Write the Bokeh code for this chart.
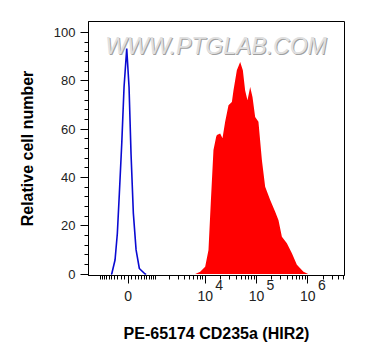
import numpy as np
from bokeh.plotting import figure
from bokeh.models import FixedTicker, CustomJSTickFormatter, Range1d, Label, LinearAxis
from bokeh.embed import file_html
from bokeh.resources import INLINE

# ---- data ----
# Control (unstained) histogram: fluorescence intensity values and relative counts
blue_x = [-531, -502, -387, -313, -251, -179, -113, -37, 28, 84, 151, 231, 332, 527, 569]
blue_y = [0, 0, 5.8, 16.8, 33.3, 54.1, 77.4, 93.3, 77.4, 49.9, 25.1, 10.0, 2.3, 0, 0]

# Stained histogram: log10(intensity) and relative counts
red_log = [3.805, 3.902, 3.999, 4.064, 4.111, 4.161, 4.214, 4.228, 4.292, 4.337, 4.389,
           4.454, 4.520, 4.551, 4.617, 4.682, 4.734, 4.779, 4.824, 4.877, 4.922, 4.974,
           5.038, 5.105, 5.169, 5.267, 5.364, 5.429, 5.495, 5.592, 5.690, 5.787, 5.916, 6.007]
red_y = [0, 1.0, 3.0, 10.0, 30.5, 51.3, 56.8, 57.5, 58.2, 56.2, 63.0,
         69.8, 71.2, 76.0, 84.3, 87.7, 84.3, 76.0, 71.9, 77.4, 73.3, 65.0,
         63.0, 47.2, 36.1, 30.6, 25.8, 22.3, 15.4, 12.7, 8.6, 3.8, 1.0, 0]

x_tick_values = [0, 1e4, 1e5, 1e6]
x_tick_bases = ["0", "10", "10", "10"]
x_tick_exps = ["", "4", "5", "6"]
y_ticks = [0, 20, 40, 60, 80, 100]

# ---- biexponential-like display transform ----
C = 627.0
K = 4 - np.arcsinh(1e4 / C) / np.log(10)


def biex(v):
    return K + np.arcsinh(np.asarray(v, dtype=float) / C) / np.log(10)


x_lo, x_hi = 1.725, 6.715
W, H = 360, 355
BL, BR, BT, BB = 88, 16, 21, 80
frame_w = W - BL - BR

bx = biex(blue_x)
rx = biex(10 ** np.asarray(red_log))

p = figure(width=W, height=H, output_backend="svg", toolbar_location=None,
           x_range=Range1d(x_lo, x_hi), y_range=Range1d(-0.6, 104.5),
           min_border_left=BL, min_border_right=BR, min_border_top=BT, min_border_bottom=BB)

p.background_fill_color = "white"
p.border_fill_color = "white"
p.outline_line_color = "black"
p.outline_line_width = 1
p.xgrid.visible = False
p.ygrid.visible = False

# watermark
wm_x = 4.21
wm_y = 94.5
for off, col in [(1, "#a0a0a0"), (0, "#e0e0e0")]:
    p.add_layout(Label(x=wm_x, y=wm_y, x_offset=off, y_offset=-off, text="WWW.PTGLAB.COM",
                       text_align="center", text_baseline="middle",
                       text_font="Liberation Sans", text_font_size="23px",
                       text_font_style="italic", text_color=col))

p.varea(x=rx, y1=0, y2=red_y, fill_color="#ff0000", fill_alpha=1)
p.line(x=bx, y=blue_y, line_color="#0a0ad2", line_width=1.6)

# x ticks
major_pos = [float(v) for v in biex(x_tick_values)]
minor_vals = []
for k in (2, 3):
    for m in range(1, 10):
        minor_vals += [m * 10 ** k, -m * 10 ** k]
for k in (4, 5, 6):
    for m in range(2, 10):
        minor_vals.append(m * 10 ** k)
minor_pos = [float(v) for v in biex(minor_vals) if x_lo <= v <= x_hi]
p.xaxis.ticker = FixedTicker(ticks=major_pos, minor_ticks=minor_pos)
p.xaxis.formatter = CustomJSTickFormatter(args=dict(pos=major_pos, labs=x_tick_bases), code="""
let best = 0, bd = 1e9;
for (let i = 0; i < pos.length; i++) { const d = Math.abs(pos[i] - tick); if (d < bd) { bd = d; best = i; } }
return labs[best];
""")

# second, invisible axis carrying the decade exponents (raised, right of the "10")
units_per_px = (x_hi - x_lo) / frame_w
exp_pos = [xp + 14 * units_per_px for xp, ex in zip(major_pos, x_tick_exps) if ex]
exp_labs = [ex for ex in x_tick_exps if ex]
ax2 = LinearAxis(ticker=FixedTicker(ticks=exp_pos, minor_ticks=[]),
                 formatter=CustomJSTickFormatter(args=dict(pos=exp_pos, labs=exp_labs), code="""
let best = 0, bd = 1e9;
for (let i = 0; i < pos.length; i++) { const d = Math.abs(pos[i] - tick); if (d < bd) { bd = d; best = i; } }
return labs[best];
"""))
ax2.axis_line_color = None
ax2.major_tick_line_color = None
ax2.minor_tick_line_color = None
ax2.major_tick_out = 0
ax2.major_tick_in = 0
ax2.major_label_standoff = -24
ax2.major_label_text_font = "Liberation Sans"
ax2.major_label_text_font_size = "14px"
ax2.major_label_text_color = "#222222"
ax2.axis_label = "PE-65174 CD235a (HIR2)"
ax2.axis_label_text_font = "Liberation Sans"
ax2.axis_label_text_font_style = "bold"
ax2.axis_label_text_font_size = "16px"
ax2.axis_label_text_color = "black"
ax2.axis_label_standoff = 32
p.add_layout(ax2, "below")

p.yaxis.ticker = FixedTicker(ticks=y_ticks, minor_ticks=[v for v in range(0, 101, 4)])

for ax in (p.xaxis[0], p.yaxis[0]):
    ax.axis_line_color = "black"
    ax.major_tick_line_color = "black"
    ax.minor_tick_line_color = "black"
    ax.major_tick_out = 8
    ax.major_tick_in = 0
    ax.minor_tick_out = 4
    ax.minor_tick_in = 0
    ax.major_label_text_font = "Liberation Sans"
    ax.major_label_text_color = "#222222"
    ax.axis_label_text_font = "Liberation Sans"
    ax.axis_label_text_font_style = "bold"
    ax.axis_label_text_font_size = "16px"
    ax.axis_label_text_color = "black"

p.xaxis[0].major_label_text_font_size = "14px"
p.yaxis.major_label_text_font_size = "13px"
p.xaxis[0].major_label_standoff = 7
p.yaxis.major_label_standoff = 5
p.yaxis.axis_label = "Relative cell number"
p.yaxis.axis_label_standoff = 15

open("out.html", "w").write(file_html(p, INLINE))
